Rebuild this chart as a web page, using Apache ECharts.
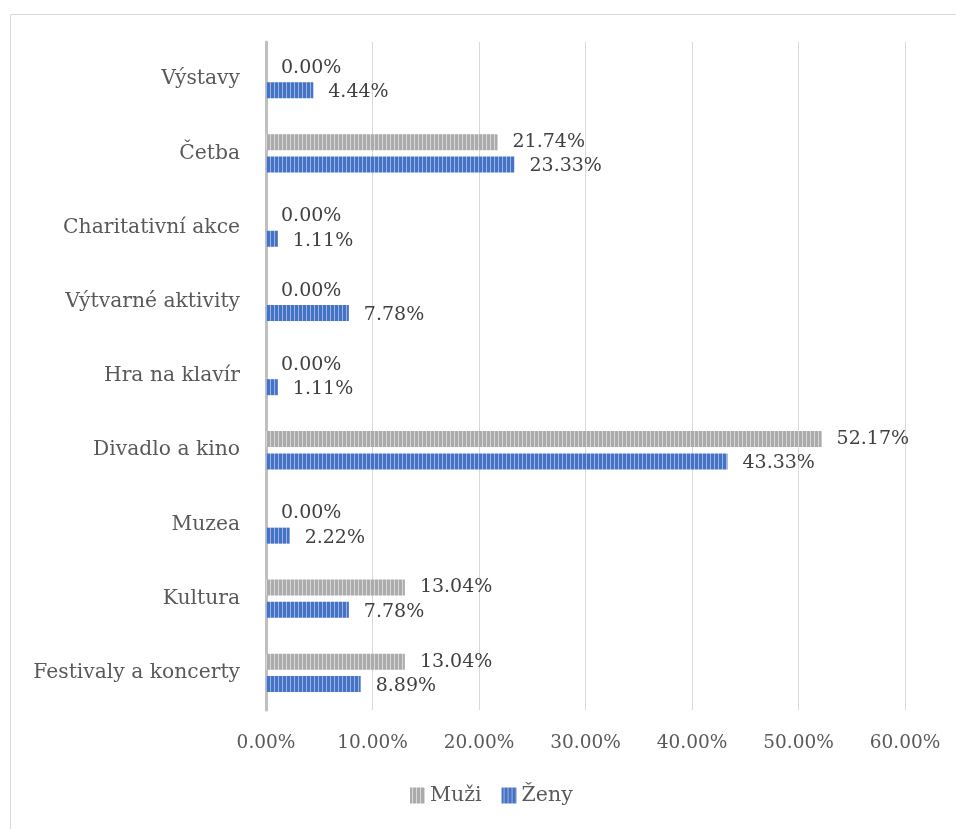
<!DOCTYPE html>
<html><head><meta charset="utf-8">
<script src="https://cdn.jsdelivr.net/npm/echarts@6/dist/echarts.min.js"></script>
<style>html,body{margin:0;padding:0;background:#fff}#c{width:956px;height:829px}</style>
</head><body><div id="c"></div>
<script>
const categories = ['Festivaly a koncerty','Kultura','Muzea','Divadlo a kino','Hra na klavír','Výtvarné aktivity','Charitativní akce','Četba','Výstavy'];
const muzi = [13.04, 13.04, 0.00, 52.17, 0.00, 0.00, 0.00, 21.74, 0.00];
const zeny = [8.89, 7.78, 2.22, 43.33, 1.11, 7.78, 1.11, 23.33, 4.44];
const xTicks = [0, 10, 20, 30, 40, 50, 60];

function stripe(c1, c2) {
  const cv = document.createElement('canvas');
  cv.width = 4; cv.height = 8;
  const ctx = cv.getContext('2d');
  ctx.fillStyle = c1; ctx.fillRect(0, 0, 4, 8);
  ctx.fillStyle = c2; ctx.fillRect(2, 0, 1, 8);
  return {image: cv, repeat: 'repeat'};
}
const grayPat = stripe('#ababab', '#d8d8d8');
const bluePat = stripe('#4472c4', '#9cb4e0');
const FONT = '"DejaVu Serif", serif';
const FS = 18.5;

const chart = echarts.init(document.getElementById('c'));
chart.setOption({
  animation: false,
  graphic: [{type: 'rect', shape: {x: 10.5, y: 14.5, width: 980, height: 840}, style: {fill: 'none', stroke: '#d9d9d9', lineWidth: 1}}],
  grid: {left: 266, right: 51, top: 42, bottom: 119, containLabel: false},
  legend: {
    data: ['Muži', 'Ženy'], bottom: 18, left: 405, itemWidth: 15, itemHeight: 16, itemGap: 20,
    icon: 'rect',
    textStyle: {fontFamily: FONT, fontSize: 20.5, color: '#595959', padding: [0, 0, 0, 0]}
  },
  xAxis: {
    type: 'value', min: xTicks[0], max: xTicks[xTicks.length - 1], interval: 10,
    axisLine: {show: false}, axisTick: {show: false},
    splitLine: {lineStyle: {color: '#d9d9d9', width: 1}},
    axisLabel: {formatter: v => v.toFixed(2) + '%', fontFamily: FONT, fontSize: FS, color: '#595959', margin: 24}
  },
  yAxis: {
    type: 'category', data: categories,
    axisLine: {lineStyle: {color: '#bfbfbf', width: 3}}, axisTick: {show: false},
    axisLabel: {fontFamily: FONT, fontSize: 20.3, color: '#595959', margin: 26}
  },
  series: [
    {name: 'Muži', type: 'bar', data: muzi, barWidth: 16, barGap: '40%',
     itemStyle: {color: grayPat},
     label: {show: true, position: 'right', distance: 15, formatter: p => p.value.toFixed(2) + '%', fontFamily: FONT, fontSize: FS + 0.5, color: '#404040'}},
    {name: 'Ženy', type: 'bar', data: zeny, barWidth: 16,
     itemStyle: {color: bluePat},
     label: {show: true, position: 'right', distance: 15, offset: [0, 2], formatter: p => p.value.toFixed(2) + '%', fontFamily: FONT, fontSize: FS + 0.5, color: '#404040'}}
  ]
});
</script></body></html>
